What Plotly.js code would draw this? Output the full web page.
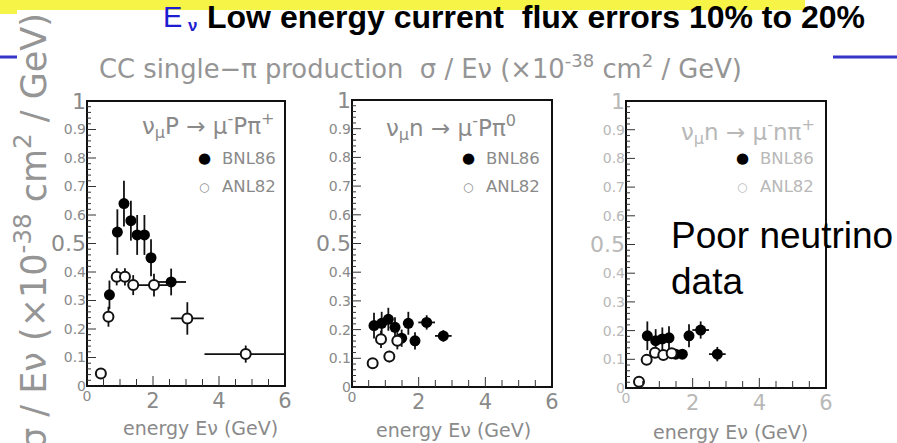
<!DOCTYPE html>
<html><head><meta charset="utf-8">
<script src="https://cdn.plot.ly/plotly-3.0.1.min.js"></script>
<style>html,body{margin:0;padding:0;background:#fff;overflow:hidden}#chart{width:897px;height:443px}</style>
</head><body><div id="chart"></div>
<script>
// ---- data ----
// Panel 1: nu_mu p -> mu- p pi+
const p1BnlE    = [0.68, 0.92, 1.12, 1.33, 1.52, 1.74, 1.94, 2.55];
const p1BnlV    = [0.32, 0.54, 0.64, 0.58, 0.53, 0.53, 0.45, 0.365];
const p1BnlErr  = [0.05, 0.08, 0.08, 0.07, 0.07, 0.07, 0.065, 0.047];
const p1BnlEErr = [0, 0, 0, 0, 0, 0, 0, 0.45];
const p1AnlE    = [0.42, 0.65, 0.9, 1.15, 1.4, 2.03, 3.04, 4.81];
const p1AnlV    = [0.044, 0.243, 0.383, 0.383, 0.354, 0.354, 0.237, 0.112];
const p1AnlErr  = [0.01, 0.035, 0.03, 0.03, 0.035, 0.04, 0.057, 0.03];
const p1AnlEErr = [0, 0, 0, 0, 0, 0.5, 0.5, 1.25];
// Panel 2: nu_mu n -> mu- p pi0
const p2BnlE    = [0.66, 0.89, 1.09, 1.29, 1.49, 1.69, 1.89, 2.24, 2.74];
const p2BnlV    = [0.214, 0.222, 0.236, 0.208, 0.17, 0.222, 0.161, 0.225, 0.178];
const p2BnlErr  = [0.045, 0.04, 0.04, 0.035, 0.03, 0.04, 0.03, 0.025, 0.02];
const p2BnlEErr = [0, 0, 0, 0, 0, 0, 0, 0.25, 0.25];
const p2AnlE    = [0.62, 0.87, 1.12, 1.36];
const p2AnlV    = [0.083, 0.166, 0.106, 0.161];
const p2AnlErr  = [0.015, 0.03, 0.02, 0.03];
// Panel 3: nu_mu n -> mu- n pi+
const p3BnlE    = [0.64, 0.89, 1.09, 1.29, 1.49, 1.69, 1.89, 2.24, 2.74];
const p3BnlV    = [0.182, 0.165, 0.171, 0.175, 0.118, 0.118, 0.182, 0.202, 0.118];
const p3BnlErr  = [0.05, 0.04, 0.04, 0.04, 0.015, 0.015, 0.04, 0.03, 0.025];
const p3BnlEErr = [0, 0, 0, 0, 0, 0, 0, 0.25, 0.25];
const p3AnlE    = [0.39, 0.62, 0.87, 1.12, 1.37];
const p3AnlV    = [0.022, 0.098, 0.123, 0.115, 0.121];
const p3AnlErr  = [0.01, 0.015, 0.015, 0.015, 0.015];

const reactions = ['ν<sub>μ</sub>P → μ<sup>-</sup>Pπ<sup>+</sup>',
                   'ν<sub>μ</sub>n → μ<sup>-</sup>Pπ<sup>0</sup>',
                   'ν<sub>μ</sub>n → μ<sup>-</sup>nπ<sup>+</sup>'];
const seriesNames = ['BNL86', 'ANL82'];
// tick labels: small ones and large ones (as in the scan)
const xTickSmallVals = [0], xTickBigVals = [2, 4, 6];
const yTickSmallVals = [0, 0.1, 0.2, 0.3, 0.4, 0.6, 0.7, 0.8, 0.9], yTickBigVals = [0.5, 1];

// ---- layout helpers ----
const W = 897, H = 443;
const px = x => x / W, py = y => 1 - y / H;
const GRAY = '#8a8a8a', LIGHT = '#b8b8b8';
const FONT = 'DejaVu Sans, sans-serif';

function errTrace(E, V, err, eerr, ax, filled) {
  const t = {
    x: E, y: V, xaxis: ax[0], yaxis: ax[1], type: 'scatter', mode: 'markers',
    error_y: {type: 'data', array: err, color: '#111', thickness: 1.8, width: 0},
    marker: filled ? {symbol: 'circle', size: 11, color: '#000'}
                   : {symbol: 'circle', size: 10, color: '#fff', line: {color: '#111', width: 2}},
    showlegend: false
  };
  if (eerr) t.error_x = {type: 'data', array: eerr, color: '#111', thickness: 1.8, width: 0};
  return t;
}

const data = [
  errTrace(p1BnlE, p1BnlV, p1BnlErr, p1BnlEErr, ['x', 'y'], true),
  errTrace(p1AnlE, p1AnlV, p1AnlErr, p1AnlEErr, ['x', 'y'], false),
  errTrace(p2BnlE, p2BnlV, p2BnlErr, p2BnlEErr, ['x2', 'y2'], true),
  errTrace(p2AnlE, p2AnlV, p2AnlErr, null, ['x2', 'y2'], false),
  errTrace(p3BnlE, p3BnlV, p3BnlErr, p3BnlEErr, ['x3', 'y3'], true),
  errTrace(p3AnlE, p3AnlV, p3AnlErr, null, ['x3', 'y3'], false)
];

const panels = [
  {l: 87, r: 285, t: 101, b: 386, col: GRAY},
  {l: 352, r: 552, t: 100, b: 387, col: GRAY},
  {l: 626, r: 826, t: 101, b: 388, col: LIGHT}
];

const layout = {
  width: W, height: H, margin: {l: 0, r: 0, t: 0, b: 0},
  paper_bgcolor: 'white', plot_bgcolor: 'rgba(255,255,255,0)', showlegend: false,
  shapes: [], annotations: []
};

panels.forEach((p, i) => {
  const s = i === 0 ? '' : String(i + 1);
  const so = String(i + 4), sm = String(i + 7);
  layout['xaxis' + s] = {domain: [px(p.l), px(p.r)], range: [0, 6], anchor: 'y' + s,
    showline: false, ticks: '', showticklabels: false, showgrid: false, zeroline: false};
  layout['yaxis' + s] = {domain: [py(p.b), py(p.t)], range: [0, 1], anchor: 'x' + s,
    showline: false, ticks: '', showticklabels: false, showgrid: false, zeroline: false};
  // label axes on the same scale as the panel
  layout['xaxis' + so] = {domain: [px(p.l), px(p.r)], range: [0, 6], anchor: 'y' + s, overlaying: 'x' + s, side: 'bottom',
    tickmode: 'array', tickvals: xTickBigVals, ticks: '', showline: false, showgrid: false, zeroline: false,
    tickfont: {family: FONT, size: 21, color: p.col}};
  layout['yaxis' + so] = {domain: [py(p.b), py(p.t)], range: [0, 1], anchor: 'x' + s, overlaying: 'y' + s, side: 'left',
    tickmode: 'array', tickvals: yTickBigVals, ticks: '', showline: false, showgrid: false, zeroline: false,
    tickfont: {family: FONT, size: 22, color: p.col}};
  layout['xaxis' + sm] = {domain: [px(p.l), px(p.r)], range: [0, 6], anchor: 'y' + s, overlaying: 'x' + s, side: 'bottom',
    tickmode: 'array', tickvals: xTickSmallVals, ticks: '', showline: false, showgrid: false, zeroline: false,
    tickfont: {family: FONT, size: 14, color: p.col}};
  layout['yaxis' + sm] = {domain: [py(p.b), py(p.t)], range: [0, 1], anchor: 'x' + s, overlaying: 'y' + s, side: 'left',
    tickmode: 'array', tickvals: yTickSmallVals, ticks: '', showline: false, showgrid: false, zeroline: false,
    tickfont: {family: FONT, size: 14, color: p.col}};
  data.push({x: [], y: [], xaxis: 'x' + so, yaxis: 'y' + so, type: 'scatter', mode: 'markers', showlegend: false});
  data.push({x: [], y: [], xaxis: 'x' + sm, yaxis: 'y' + sm, type: 'scatter', mode: 'markers', showlegend: false});

  // frame of the panel
  const xr = 'x' + s, yr = 'y' + s;
  layout.shapes.push({type: 'rect', xref: xr + ' domain', yref: yr + ' domain', x0: 0, x1: 1, y0: 0, y1: 1,
    line: {color: '#111', width: 2}, fillcolor: 'rgba(0,0,0,0)'});
  // inside ticks along the axes (y every 0.02, x every 0.5)
  const pw = p.r - p.l, ph = p.b - p.t;
  for (let k = 1; k < 50; k++) {
    const len = k % 5 === 0 ? 9 : 4;
    layout.shapes.push({type: 'line', xref: xr + ' domain', yref: yr, x0: 0, x1: len / pw, y0: k / 50, y1: k / 50,
      line: {color: '#333', width: 1}});
  }
  for (let k = 1; k < 12; k++) {
    const len = k % 4 === 0 ? 10 : 7;
    layout.shapes.push({type: 'line', xref: xr, yref: yr + ' domain', x0: k / 2, x1: k / 2, y0: 0, y1: len / ph,
      line: {color: '#333', width: 1}});
  }
});

// Slide decoration
layout.shapes.push(
  {type: 'rect', xref: 'paper', yref: 'paper', x0: px(0), x1: px(805), y0: py(10), y1: py(0), fillcolor: '#f6f446', line: {color: 'rgba(0,0,0,0)', width: 1}},
  {type: 'rect', xref: 'paper', yref: 'paper', x0: px(0), x1: px(17), y0: py(14), y1: py(0), fillcolor: '#f6f446', line: {color: 'rgba(0,0,0,0)', width: 1}},
  {type: 'line', xref: 'paper', yref: 'paper', x0: px(0), x1: px(17), y0: py(57), y1: py(57), line: {color: '#3535c8', width: 3}},
  {type: 'line', xref: 'paper', yref: 'paper', x0: px(833), x1: px(897), y0: py(57), y1: py(57), line: {color: '#3535c8', width: 3}}
);

const A = layout.annotations;
function note(x, y, text, font, extra) {
  A.push(Object.assign({xref: 'paper', yref: 'paper', x: px(x), y: py(y), text: text, showarrow: false,
    xanchor: 'center', yanchor: 'middle', font: font}, extra || {}));
}
note(161, 17, 'E', {family: 'Liberation Sans, Arial', size: 29, color: '#1c1cd0'}, {xanchor: 'left'});
note(186, 25, '<b>ν</b>', {family: 'Liberation Sans, Arial', size: 17, color: '#1c1cd0'}, {xanchor: 'left'});
note(205, 17, '<b>Low energy current  flux errors 10% to 20%</b>', {family: 'Liberation Sans, Arial', size: 32, color: '#000'}, {xanchor: 'left'});
note(97, 67, 'CC single−π production  σ / Eν (×10<sup>-38</sup> cm<sup>2</sup> / GeV)', {family: FONT, size: 25.8, color: '#959595'}, {xanchor: 'left'});
note(31, 232, 'σ / Eν (×10<sup>-38</sup> cm<sup>2</sup> / GeV)', {family: FONT, size: 35, color: '#959595'}, {textangle: -90});

const reactX = [277, 518, 817], reactY = [125, 128, 131];
const legDotX = [204, 468, 742], legTextX = [220, 484, 758];
const titleX = [200, 453, 730], titleY = [428, 430, 432];
panels.forEach((p, i) => {
  note(reactX[i], reactY[i], reactions[i], {family: FONT, size: 23, color: p.col}, {xanchor: 'right'});
  note(legDotX[i], 158, '●', {family: 'DejaVu Sans', size: 15, color: '#000'});
  note(legDotX[i], 187, '○', {family: 'DejaVu Sans', size: 12, color: p.col});
  note(legTextX[i], 158, seriesNames[0], {family: FONT, size: 16.5, color: p.col}, {xanchor: 'left'});
  note(legTextX[i], 187, seriesNames[1], {family: FONT, size: 16.5, color: p.col}, {xanchor: 'left'});
  note(titleX[i], titleY[i], 'energy Eν (GeV)', {family: FONT, size: 19, color: GRAY});
});
note(669, 236, 'Poor neutrino', {family: 'Liberation Sans, Arial', size: 37, color: '#000'}, {xanchor: 'left'});
note(669, 281, 'data', {family: 'Liberation Sans, Arial', size: 37, color: '#000'}, {xanchor: 'left'});

Plotly.newPlot('chart', data, layout, {displayModeBar: false});
</script></body></html>
